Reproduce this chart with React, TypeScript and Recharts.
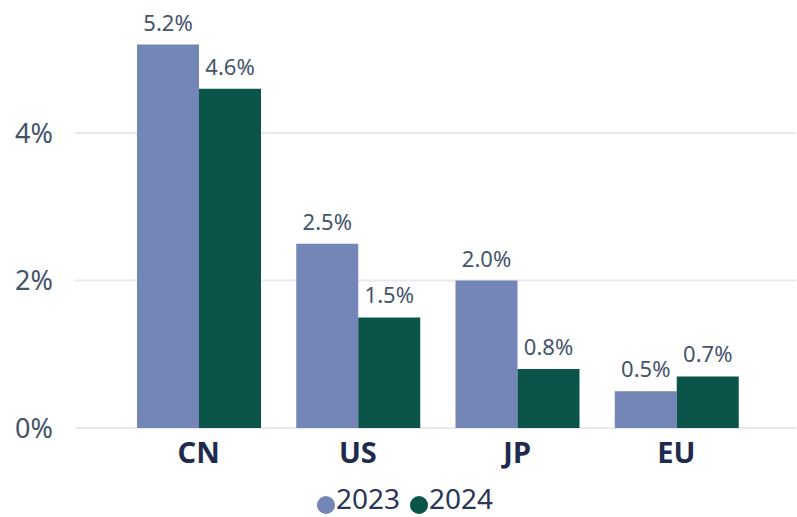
import { Bar, BarChart, CartesianGrid, LabelList, Legend, XAxis, YAxis } from "recharts"

const regions = ["CN", "US", "JP", "EU"]
const growth2023 = [5.2, 2.5, 2.0, 0.5]
const growth2024 = [4.6, 1.5, 0.8, 0.7]
const yTicks = [0, 2, 4]

const data = regions.map((name, i) => ({
  name,
  y2023: growth2023[i],
  y2024: growth2024[i],
}))

const font = "'Noto Sans', 'Open Sans', sans-serif"

export default function App() {
  return (
    <div style={{ position: "fixed", left: 0, top: 0, width: 797, height: 517, background: "#fff", fontFamily: font }}>
      <BarChart
        width={797}
        height={517}
        data={data}
        margin={{ top: 15, right: 1, bottom: 21, left: 0 }}
        barCategoryGap={18}
        barGap={0}
      >
        <CartesianGrid vertical={false} horizontalValues={yTicks} stroke="#e7e9ef" strokeWidth={2} />
        <XAxis
          dataKey="name"
          axisLine={false}
          tickLine={false}
          tickSize={0}
          tickMargin={14}
          padding={{ left: 44, right: 40 }}
          tick={{ fill: "#1f2b4d", fontSize: 29, fontWeight: 700, fontFamily: font }}
        />
        <YAxis
          width={75}
          domain={[0, 5.6]}
          ticks={yTicks}
          axisLine={false}
          tickLine={false}
          tickSize={0}
          tickMargin={22}
          tickFormatter={(v) => `${v}%`}
          tick={{ fill: "#44546a", fontSize: 27, fontFamily: font }}
        />
        <Legend
          verticalAlign="bottom"
          iconType="circle"
          iconSize={18}
          wrapperStyle={{ bottom: 0, paddingLeft: 12 }}
          formatter={(value) => (
            <span style={{ color: "#2a3756", fontSize: 28, fontFamily: font, marginLeft: -3 }}>{value}</span>
          )}
        />
        <Bar dataKey="y2023" name="2023" fill="#7386b7" isAnimationActive={false}>
          <LabelList
            dataKey="y2023"
            position="top"
            offset={14}
            formatter={(v: number) => `${v.toFixed(1)}%`}
            style={{ fill: "#44546a", fontSize: 22, fontFamily: font }}
          />
        </Bar>
        <Bar dataKey="y2024" name="2024" fill="#0b5449" isAnimationActive={false}>
          <LabelList
            dataKey="y2024"
            position="top"
            offset={14}
            formatter={(v: number) => `${v.toFixed(1)}%`}
            style={{ fill: "#44546a", fontSize: 22, fontFamily: font }}
          />
        </Bar>
      </BarChart>
    </div>
  )
}
